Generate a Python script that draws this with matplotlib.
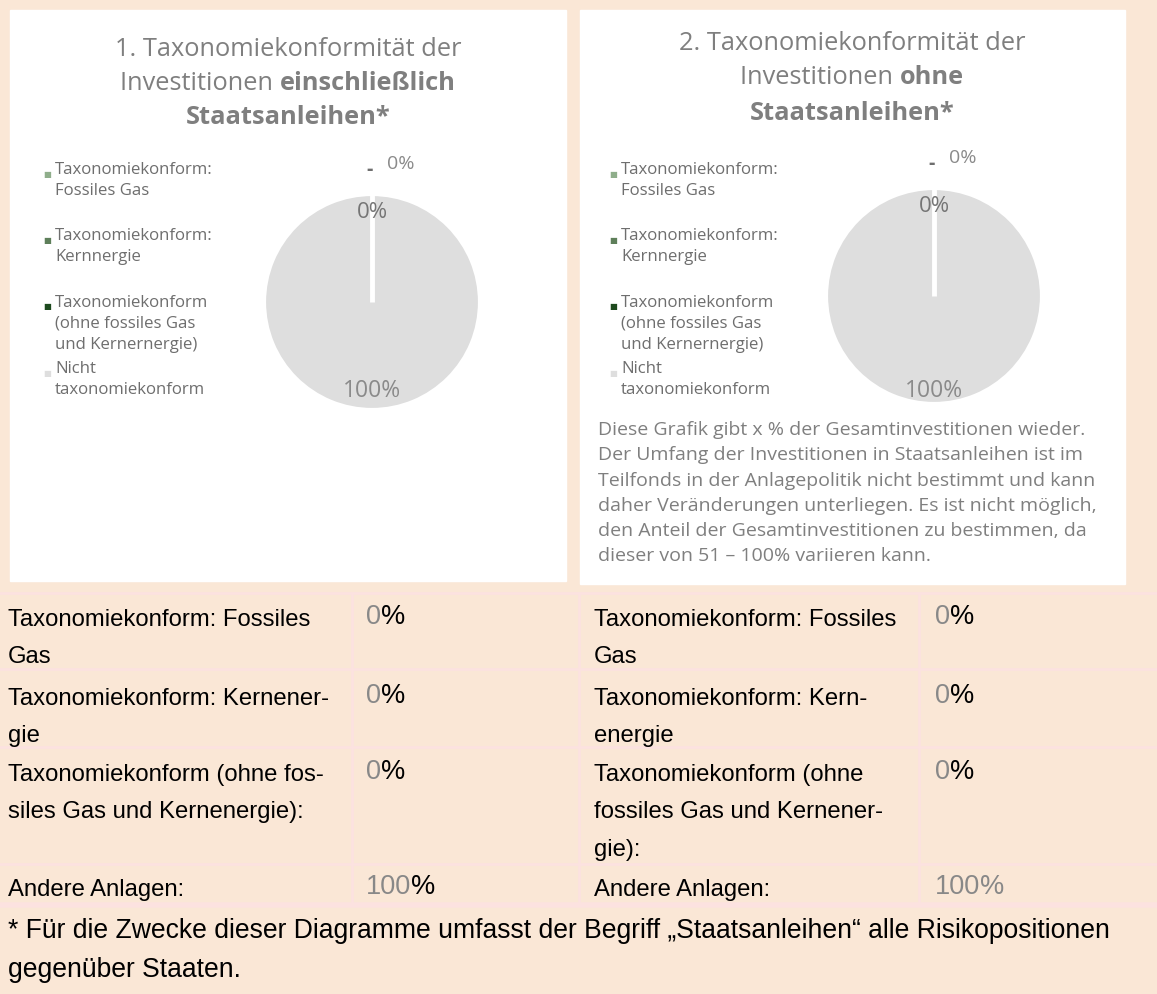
import matplotlib
matplotlib.use("Agg")
import matplotlib.pyplot as plt
from matplotlib.patches import Rectangle

W, H = 1157, 994
fig = plt.figure(figsize=(W / 100, H / 100), dpi=100)
fig.patch.set_facecolor("#FAE7D6")

# data
categories = ["Taxonomiekonform:\nFossiles Gas",
              "Taxonomiekonform:\nKernnergie",
              "Taxonomiekonform\n(ohne fossiles Gas\nund Kernernergie)",
              "Nicht\ntaxonomiekonform"]
colors = ["#8FAE8B", "#5E7F5A", "#1D4A1E", "#DEDEDE"]
incl_values = [0, 0, 0, 100]
excl_values = [0, 0, 0, 100]

table_left = ["Taxonomiekonform: Fossiles\nGas",
              "Taxonomiekonform: Kernener-\ngie",
              "Taxonomiekonform (ohne fos-\nsiles Gas und Kernenergie):",
              "Andere Anlagen:"]
table_right = ["Taxonomiekonform: Fossiles\nGas",
               "Taxonomiekonform: Kern-\nenergie",
               "Taxonomiekonform (ohne\nfossiles Gas und Kernener-\ngie):",
               "Andere Anlagen:"]
table_left_vals = ["0", "0", "0", "100"]
table_right_vals = ["0", "0", "0", "100"]

note = ("Diese Grafik gibt x % der Gesamtinvestitionen wieder.\n"
        "Der Umfang der Investitionen in Staatsanleihen ist im\n"
        "Teilfonds in der Anlagepolitik nicht bestimmt und kann\n"
        "daher Veränderungen unterliegen. Es ist nicht möglich,\n"
        "den Anteil der Gesamtinvestitionen zu bestimmen, da\n"
        "dieser von 51 – 100% variieren kann.")
footnote = ("* Für die Zwecke dieser Diagramme umfasst der Begriff „Staatsanleihen“ alle Risikopositionen\n"
            "gegenüber Staaten.")

CH = ["Open Sans", "DejaVu Sans"]
TB = ["Liberation Sans", "DejaVu Sans"]
GRAY = "#7F7F7F"


def fx(x):
    return x / W


def fy(y):
    return 1 - y / H


renderer = fig.canvas.get_renderer()


def rect(x0, y0, x1, y1, color):
    fig.add_artist(Rectangle((fx(x0), fy(y1)), (x1 - x0) / W, (y1 - y0) / H,
                             transform=fig.transFigure, color=color, zorder=-5))


def hline(x0, x1, y, lw=2):
    fig.add_artist(plt.Line2D([fx(x0), fx(x1)], [fy(y), fy(y)], color="#FCE2E0", lw=lw,
                              transform=fig.transFigure))


def vline(x, y0, y1):
    fig.add_artist(plt.Line2D([fx(x), fx(x)], [fy(y0), fy(y1)], color="#FCE2E0", lw=2,
                              transform=fig.transFigure))


def mixed_line(cx, y, parts, size):
    # parts: list of (text, weight); centered at cx
    texts = []
    x = 0
    for s, wt in parts:
        t = fig.text(fx(cx), fy(y), s, fontsize=size, fontweight=wt, color=GRAY,
                     family=CH, va="center", ha="left")
        bb = t.get_window_extent(renderer)
        texts.append((t, x))
        x += bb.width
    start = cx - x / 2
    for t, off in texts:
        t.set_x(fx(start + off))


def two_tone(x, y, num, pct_color):
    t = fig.text(fx(x), fy(y), num, fontsize=19.5, color="#888888", family=TB, va="center")
    bb = t.get_window_extent(renderer)
    fig.text(fx(x + bb.width), fy(y), "%", fontsize=19.5, color=pct_color, family=TB,
             va="center")


# white panels
rect(10, 10, 566, 581, "white")
rect(580, 10, 1125, 584, "white")


def panel(cx_title, title_y, num, bold_word, legend_x, cx, cy, values, low_lab):
    mixed_line(cx_title, title_y[0], [(num + ". Taxonomiekonformität der", "normal")], 18.3)
    mixed_line(cx_title, title_y[1], [("Investitionen ", "normal"), (bold_word, "bold")], 18.3)
    mixed_line(cx_title, title_y[2], [("Staatsanleihen*", "bold")], 18.3)

    # legend
    leg_y = [174, 240, 307, 373]
    for lab, col, ly in zip(categories, colors, leg_y):
        fig.text(fx(legend_x - 12), fy(ly), "■", fontsize=6, color=col, family=["DejaVu Sans"],
                 va="center", ha="left")
        fig.text(fx(legend_x), fy(ly - 12), lab, fontsize=12.1, color="#6E6E6E", family=CH,
                 va="top", ha="left", linespacing=1.40)

    r = 108
    ax = fig.add_axes([fx(cx - r), fy(cy + r), 2 * r / W, 2 * r / H], zorder=2)
    ax.pie(values, colors=colors, startangle=90, counterclock=False, radius=1,
           wedgeprops=dict(edgecolor="white", linewidth=3))
    # white gap where the zero slices sit
    ax.plot([0, 0], [0, 1.0], color="white", lw=3.5, solid_capstyle="butt")
    ax.set_xlim(-1, 1)
    ax.set_ylim(-1, 1)
    ax.set_aspect("equal")
    ax.axis("off")
    ax.text(0, 0.83, f"{values[0]}%", ha="center", va="center", fontsize=16, color="#757575",
            family=CH)
    ax.text(0.27, 1.28, f"{values[1]}%", ha="center", va="center", fontsize=14, color="#8A8A8A",
            family=CH, clip_on=False)
    ax.text(-0.02, 1.22, "-", ha="center", va="center", fontsize=14, color="#6E6E6E",
            family=CH, fontweight="bold", clip_on=False)
    ax.text(0, low_lab, f"{values[3]}%", ha="center", va="center", fontsize=16.5,
            color="#8A8A8A", family=CH)


panel(288, [49, 83, 118], "1", "einschließlich", 55, 372, 302, incl_values, -0.82)
panel(852, [44, 78, 113], "2", "ohne", 621, 934, 296, excl_values, -0.88)

fig.text(fx(598), fy(421), note, fontsize=14, color=GRAY, family=CH, va="top",
         ha="left", linespacing=1.52)

# table
row_lines = [593, 669, 747, 864]
for y in row_lines:
    hline(0, W, y)
hline(0, W, 905, lw=4)
for x in [352, 579, 919]:
    vline(x, 593, 905)

row_y = [618, 697, 773, 888]
for lab, val, ry in zip(table_left, table_left_vals, row_y):
    fig.text(fx(8), fy(ry - 9), lab, fontsize=17.2, color="black", family=TB,
             va="top", ha="left", linespacing=1.9)
    two_tone(366, ry - 1, val, "black")
for lab, val, ry in zip(table_right, table_right_vals, row_y):
    fig.text(fx(594), fy(ry - 9), lab, fontsize=17.2, color="black", family=TB,
             va="top", ha="left", linespacing=1.9)
    two_tone(935, ry - 1, val, "#888888" if val == "100" else "black")

fig.text(fx(8), fy(918), footnote, fontsize=19.1, color="black", family=TB, va="top",
         ha="left", linespacing=1.66)

fig.savefig("out.png", dpi=100, facecolor=fig.get_facecolor())
